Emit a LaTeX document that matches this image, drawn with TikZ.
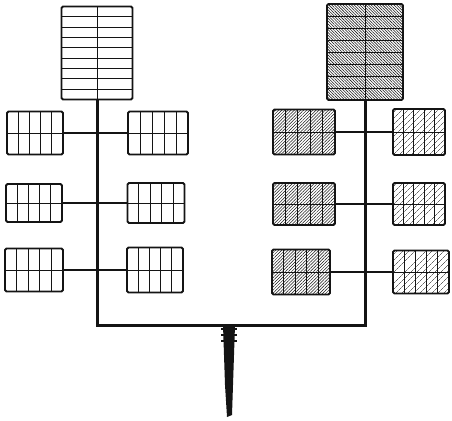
\documentclass[tikz,border=0pt]{standalone}
\usepackage{tikz}
\usepackage{xcolor}
\usetikzlibrary{calc,patterns.meta}
\definecolor{BedInk}{HTML}{141414}
\tikzset{
  bedbox/.style={draw=BedInk,line width=1.8pt,rounded corners=1.5pt,inner sep=0pt,outer sep=0pt,fill=white},
  shadebed/.style={bedbox,pattern color=BedInk,pattern={Lines[angle=45,distance=2.2pt,line width=0.5pt]}},
  lightbed/.style={bedbox,pattern color=BedInk,pattern={Lines[angle=45,distance=4pt,line width=0.45pt]}},
  darkbed/.style={bedbox,pattern color=BedInk,pattern={Lines[angle=-45,distance=2pt,line width=0.55pt]}},
  gridline/.style={draw=BedInk,line width=0.9pt},
  trunk/.style={draw=BedInk,line width=3pt},
  branch/.style={draw=BedInk,line width=2pt}
}
% cell grid inside a bed: node, columns, rows
\newcommand{\bedgrid}[3]{%
  \pgfmathtruncatemacro\gridc{#2-1}
  \pgfmathtruncatemacro\gridr{#3-1}
  \foreach \k in {1,...,\gridc}
    \draw[gridline] ($(#1.north west)!\k/#2!(#1.north east)$) -- ($(#1.south west)!\k/#2!(#1.south east)$);
  \foreach \k in {1,...,\gridr}
    \draw[gridline] ($(#1.north west)!\k/#3!(#1.south west)$) -- ($(#1.north east)!\k/#3!(#1.south east)$);
}
\begin{document}
\begin{tikzpicture}[x=1pt,y=-1pt]
  \useasboundingbox (0,0) rectangle (452,420);
  % main feed
  \coordinate (jointL) at (95,325);
  \coordinate (jointR) at (365,325);
  \coordinate (stemtop) at (229,325);
  % top beds
  \node[bedbox,minimum width=71pt,minimum height=93pt] (topL) at (97,53) {};
  \node[darkbed,minimum width=76pt,minimum height=96pt] (topR) at (365,52) {};
  % left column beds
  \node[bedbox,minimum width=56pt,minimum height=43pt] (L1a) at (35,133) {};
  \node[bedbox,minimum width=60pt,minimum height=43pt] (L1b) at (158,133) {};
  \node[bedbox,minimum width=56pt,minimum height=38pt] (L2a) at (34,203) {};
  \node[bedbox,minimum width=57pt,minimum height=40pt] (L2b) at (156,203) {};
  \node[bedbox,minimum width=58pt,minimum height=43pt] (L3a) at (34,270) {};
  \node[bedbox,minimum width=56pt,minimum height=45pt] (L3b) at (155,270) {};
  % right column beds
  \node[shadebed,minimum width=62pt,minimum height=45pt] (R1a) at (304,132) {};
  \node[lightbed,minimum width=52pt,minimum height=46pt] (R1b) at (419,132) {};
  \node[shadebed,minimum width=62pt,minimum height=42pt] (R2a) at (304,204) {};
  \node[lightbed,minimum width=52pt,minimum height=42pt] (R2b) at (419,204) {};
  \node[shadebed,minimum width=58pt,minimum height=45pt] (R3a) at (301,272) {};
  \node[lightbed,minimum width=56pt,minimum height=43pt] (R3b) at (421,272) {};
  \bedgrid{topL}{2}{9}
  \bedgrid{topR}{2}{8}
  \foreach \b in {L1a,L1b,L2a,L2b,L3a,L3b,R1a,R1b,R2a,R2b,R3a,R3b}
    {\bedgrid{\b}{5}{2}}
  % feed lines
  \draw[trunk] (topL.south) -- (topL.south |- jointL) -- (jointR) -- (topR.south);
  \draw[branch] (L1a.east) -- (L1b.west);
  \draw[branch] (L2a.east) -- (L2b.west);
  \draw[branch] (L3a.east) -- (L3b.west);
  \draw[branch] (R1a.east) -- (R1b.west);
  \draw[branch] (R2a.east) -- (R2b.west);
  \draw[branch] (R3a.east) -- (R3b.west);
  % stem
  \fill[BedInk] ($(stemtop)+(-6,0)$) -- ($(stemtop)+(6,0)$) -- ($(stemtop)+(4,60)$)
    -- ($(stemtop)+(3,90)$) -- ($(stemtop)+(-2,92)$) -- ($(stemtop)+(-4,60)$) -- cycle;
  \foreach \t in {4,10,16}
    \draw[BedInk,line width=1.6pt] ($(stemtop)+(-8,\t)$) -- ($(stemtop)+(8,\t)$);
\end{tikzpicture}
\end{document}
